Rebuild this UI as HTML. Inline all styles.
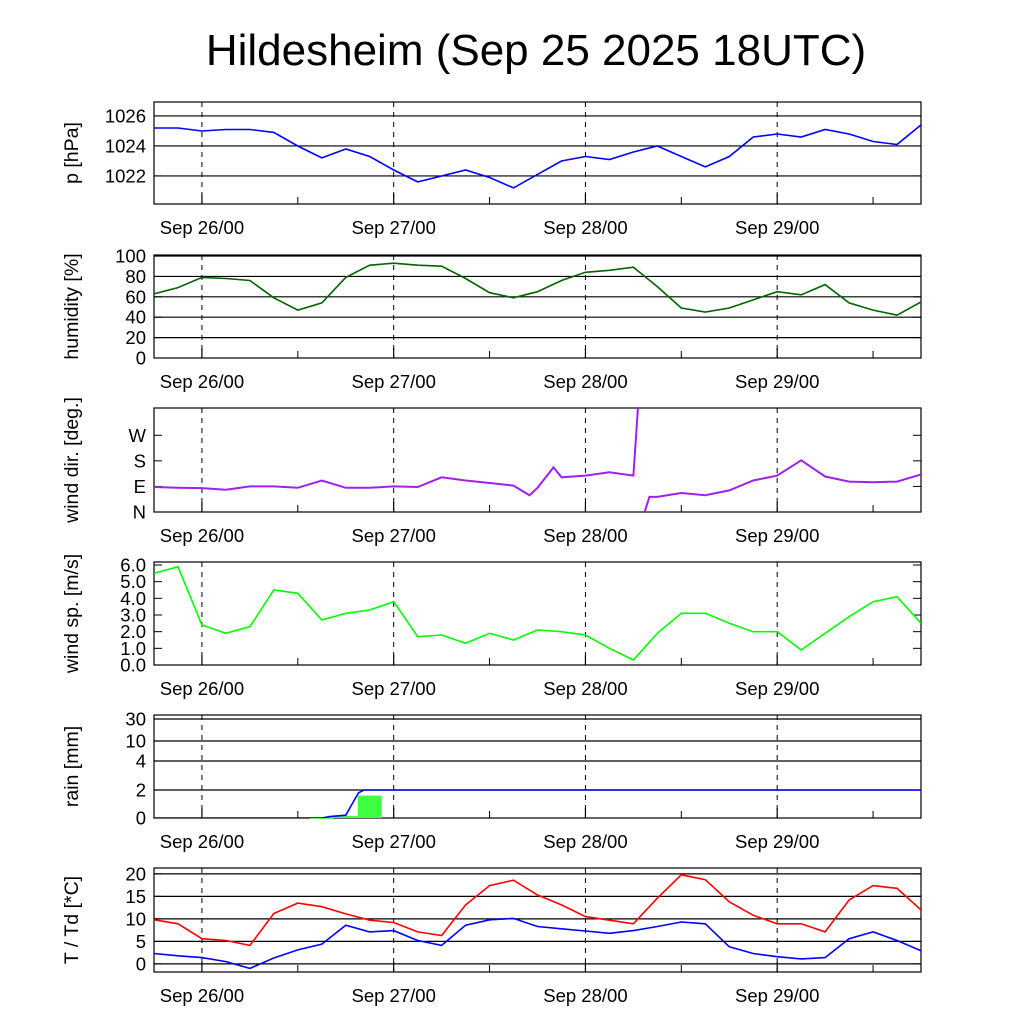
<!DOCTYPE html>
<html><head><meta charset="utf-8">
<style>
html,body{margin:0;padding:0;background:#fff;}
svg{display:block;font-family:"Liberation Sans",sans-serif;}
</style></head>
<body>
<svg id="chart" width="1024" height="1024" viewBox="0 0 1024 1024" xmlns="http://www.w3.org/2000/svg">
<rect x="0" y="0" width="1024" height="1024" fill="#fff"/>
<text x="536" y="65" font-size="44" text-anchor="middle">Hildesheim (Sep 25 2025 18UTC)</text>
</svg>
<script>
// ---- data (hours since Sep 25 18UTC) ----
const hours = [0,3,6,9,12,15,18,21,24,27,30,33,36,39,42,45,48,51,54,57,60,63,66,69,72,75,78,81,84,87,90,93,96];
const dayLabels = ["Sep 26/00","Sep 27/00","Sep 28/00","Sep 29/00"];
const dayHours = [6,30,54,78];
const pressure = [1025.2,1025.2,1025.0,1025.1,1025.1,1024.9,1024.0,1023.2,1023.8,1023.3,1022.4,1021.6,1022.0,1022.4,1021.9,1021.2,1022.1,1023.0,1023.3,1023.1,1023.6,1024.0,1023.3,1022.6,1023.3,1024.6,1024.8,1024.6,1025.1,1024.8,1024.3,1024.1,1025.4];
const humidity = [63,69,79,78,76,59,47,54,79,91,93,91,90,78,64,59,65,76,84,86,89,70,49,45,49,57,65,62,72,54,47,42,55];
const windDirHours = [0,3,6,9,12,15,18,21,24,27,30,33,36,39,42,45,47,48,50,51,54,57,60,60.6,61.2,61.4,62,63,66,69,72,75,78,81,84,87,90,93,96];
const windDir = [88,85,84,78,90,90,85,111,85,85,90,88,122,111,102,93,59,85,157,122,128,140,128,380,-20,0,53,53,67,59,76,111,128,182,125,107,105,107,132];
const windSpeed = [5.5,5.9,2.4,1.9,2.3,4.5,4.3,2.7,3.1,3.3,3.8,1.7,1.8,1.3,1.9,1.5,2.1,2.0,1.8,1.0,0.3,1.9,3.1,3.1,2.5,2.0,2.0,0.9,1.9,2.9,3.8,4.1,2.5];
const rainCumHours = [0,21,22,24,24.8,25.6,26.3,96];
const rainCum = [0,0,0.1,0.2,1.0,1.8,2.0,2.0];
const rainBarHours = [19.5,22.5,25.5];
const rainBars = [0.05,0.15,1.6];
const temp = [9.8,8.9,5.6,5.2,4.1,11.2,13.5,12.7,11.1,9.7,9.2,7.1,6.3,13.1,17.4,18.6,15.3,13.1,10.5,9.7,8.9,14.6,19.8,18.7,13.8,10.8,8.9,8.9,7.1,14.2,17.4,16.8,12.0];
const dewpoint = [2.3,1.8,1.4,0.5,-1.0,1.3,3.1,4.4,8.6,7.1,7.4,5.2,4.1,8.6,9.8,10.1,8.3,7.8,7.3,6.8,7.4,8.3,9.3,8.9,3.8,2.3,1.6,1.1,1.4,5.6,7.1,5.2,2.9];
const pTicks = [1022,1024,1026];
const hTicks = [0,20,40,60,80,100];
const dTicks = [0,90,180,270];
const dTickLabels = ["N","E","S","W"];
const sTicks = [0,1,2,3,4,5,6];
const rTicks = [0,2,4,10,30];
const tTicks = [0,5,10,15,20];

// ---- layout ----
const NS="http://www.w3.org/2000/svg";
const svg=document.getElementById('chart');
const L=154,R=921,H0=0,H1=96;
const xs=h=>L+(h-H0)/(H1-H0)*(R-L);
function el(tag,attrs,parent){const e=document.createElementNS(NS,tag);for(const k in attrs)e.setAttribute(k,attrs[k]);(parent||svg).appendChild(e);return e;}
function lin(d0,d1,top,bot){return v=>bot-(v-d0)/(d1-d0)*(bot-top);}

function panel(name,top,bot,ys,ticks,labels,title,grid){
  const g=el('g',{});
  
  
  const clipId='clip-'+name;
  const cp=el('clipPath',{id:clipId},g);el('rect',{x:L,y:top,width:R-L,height:bot-top},cp);
  ticks.forEach((t,i)=>{
    const y=ys(t);
    if(grid&&y>top+1&&y<bot-1){const gl=el('line',{x1:L,x2:R,y1:y,y2:y,stroke:'#000','stroke-width':1.2},g);
      }
    el('line',{x1:L,x2:L+8,y1:y,y2:y,stroke:'#000','stroke-width':1},g);
    el('line',{x1:R-8,x2:R,y1:y,y2:y,stroke:'#000','stroke-width':1},g);
    const tl=el('text',{x:L-8,y:y+6.5,'font-size':18.5,'text-anchor':'end'},g);
    tl.textContent=labels?labels[i]:t;
    
  });
  dayHours.forEach((h,i)=>{
    const x=xs(h);
    el('line',{x1:x,x2:x,y1:top,y2:bot,stroke:'#000','stroke-width':1,'stroke-dasharray':'5,5'},g);
    el('line',{x1:x,x2:x,y1:bot-10,y2:bot,stroke:'#000','stroke-width':1.2},g);
    const dl=el('text',{x:x,y:bot+30,'font-size':18.5,'text-anchor':'middle'},g);
    dl.textContent=dayLabels[i];
    
  });
  [18,42,66,90].forEach(h=>{const x=xs(h);el('line',{x1:x,x2:x,y1:bot-7,y2:bot,stroke:'#000','stroke-width':1},g);});
  const fr=el('rect',{x:L,y:top,width:R-L,height:bot-top,fill:'none',stroke:'#000','stroke-width':1.2},g);
  
  const cy=(top+bot)/2;
  const at=el('text',{x:0,y:0,'font-size':19.5,'text-anchor':'middle',transform:`translate(78 ${cy}) rotate(-90)`},g);
  at.textContent=title;
  
  return {g,clip:`url(#${clipId})`};
}
function line(p,hs,vals,ys,color,name){
  let d='';
  hs.forEach((h,i)=>{d+=(i===0?'M':'L')+xs(h).toFixed(1)+','+ys(vals[i]).toFixed(1)+' ';});
  const pa=el('path',{d,fill:'none',stroke:color,'stroke-width':1.6,'clip-path':p.clip},p.g);
  
  return pa;
}

// pressure
const yP=lin(1020.13,1026.93,102,204);
const p1=panel('pressure',102,204,yP,pTicks,null,'p [hPa]',true);
line(p1,hours,pressure,yP,'#0000ff','pressure-line');

// humidity
const yH=lin(0,101,255,358);
const p2=panel('humidity',255,358,yH,hTicks,null,'humidity [%]',true);
line(p2,hours,humidity,yH,'#006400','humidity-line');

// wind direction
const yD=lin(0,366,408,512);
const p3=panel('wind-direction',408,512,yD,dTicks,dTickLabels,'wind dir. [deg.]',false);
(function(){
  let d='';
  for(let i=0;i<windDirHours.length;i++){
    const v=windDir[i];const prevV=i>0?windDir[i-1]:null;
    const brk=(i===0)||(prevV>360&&v<0);
    d+=(brk?'M':'L')+xs(windDirHours[i]).toFixed(1)+','+yD(v).toFixed(1)+' ';
  }
  const pa=el('path',{d,fill:'none',stroke:'#a020f0','stroke-width':2,'clip-path':p3.clip},p3.g);
  
})();

// wind speed
const yS=lin(0,6.18,562,665);
const p4=panel('wind-speed',562,665,yS,sTicks,sTicks.map(t=>t.toFixed(1)),'wind sp. [m/s]',false);
line(p4,hours,windSpeed,yS,'#00ff00','wind-speed-line');

// rain (piecewise scale across tick values)
const rPos=[818,790,761,741,719];
function yR(v){
  for(let i=0;i<rTicks.length-1;i++){
    if(v<=rTicks[i+1]){return rPos[i]+(v-rTicks[i])/(rTicks[i+1]-rTicks[i])*(rPos[i+1]-rPos[i]);}
  }
  return rPos[rPos.length-1];
}
const p5=panel('rain',715,818,yR,rTicks,null,'rain [mm]',true);
rainBarHours.forEach((h,i)=>{
  const y=yR(rainBars[i]);
  const b=el('rect',{x:xs(h),y:y,width:xs(h+3)-xs(h),height:Math.max(1.5,yR(0)-y),fill:'#40ff40'},p5.g);
  
  
});
line(p5,rainCumHours,rainCum,yR,'#0000ff','rain-cumulative-line');

// temperature
const yT=lin(-1.8,21.3,868,972);
const p6=panel('temperature',868,972,yT,tTicks,null,'T / Td [*C]',true);
line(p6,hours,temp,yT,'#ff0000','temperature-line');
line(p6,hours,dewpoint,yT,'#0000ff','dewpoint-line');
</script>
</body></html>
